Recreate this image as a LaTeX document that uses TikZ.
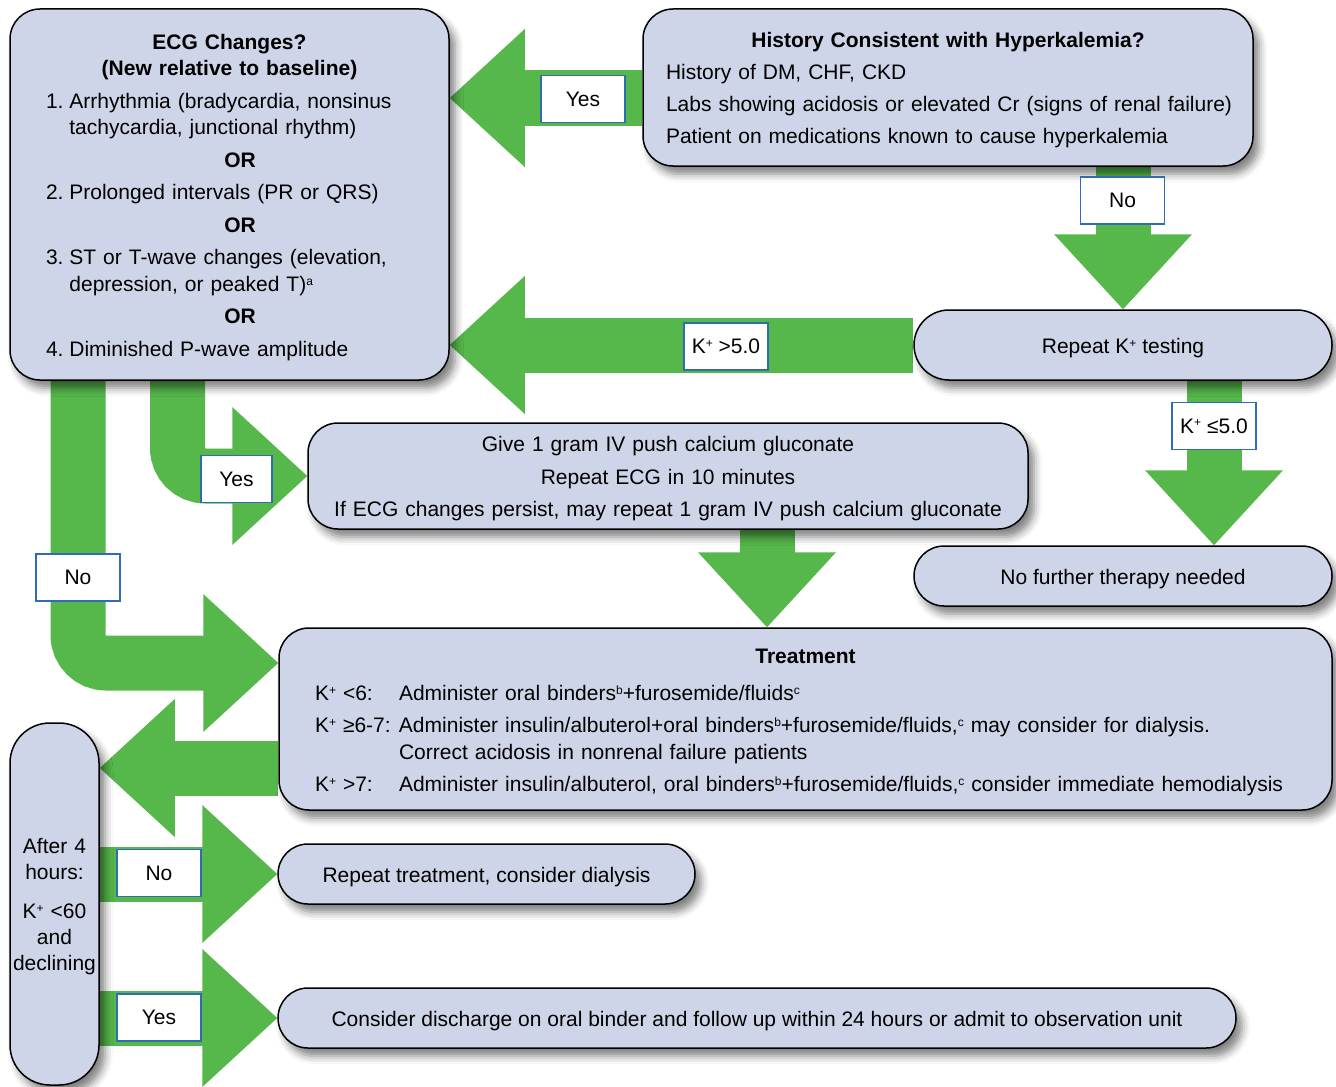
\documentclass[tikz,border=0pt]{standalone}
\usepackage{fontspec}
\setmainfont{Liberation Sans}
\usepackage{tikz}
\usetikzlibrary{backgrounds,shadows.blur}

\definecolor{arrowgreen}{HTML}{56B74B}
\definecolor{boxfill}{HTML}{CFD5E8}
\definecolor{tagblue}{HTML}{2F6CB4}

\newcommand{\sps}[1]{\raisebox{3.2pt}{\fontsize{6}{6}\selectfont#1}}
\newcommand{\Kp}{K\sps{+}}
\newcommand{\itemno}[1]{\makebox[11.7pt][l]{#1}}
\newcommand{\orline}{\makebox[\hsize]{\hspace*{10.5pt}\bfseries OR}}
\newcommand{\lline}[1]{\makebox[\hsize][l]{#1}}
\newcommand{\kline}[2]{\lline{\makebox[42pt][l]{#1}#2}}
\newcommand{\headleft}[1]{\fill[arrowgreen] (#1) -- ++(75,-69) -- ++(0,138) -- cycle;}
\newcommand{\headright}[1]{\fill[arrowgreen] (#1) -- ++(-75,-69) -- ++(0,138) -- cycle;}
\newcommand{\headdown}[1]{\fill[arrowgreen] (#1) -- ++(-69,-75) -- ++(138,0) -- cycle;}

\begin{document}
\begin{tikzpicture}[x=0.5pt, y=-0.5pt,
  box/.style={draw, line width=0.75pt, fill=boxfill, rounded corners=15pt,
    font=\fontsize{10.5}{13}\selectfont, execute at begin node={\rule{0pt}{10.6pt}},
    blur shadow={shadow xshift=3pt, shadow yshift=-4pt, shadow blur radius=4pt, shadow opacity=50}},
  tag/.style={draw=tagblue, line width=0.75pt, fill=white, minimum width=42pt,
    minimum height=23.5pt, inner sep=1pt, font=\fontsize{10.5}{13}\selectfont},
  shaft/.style={draw=arrowgreen, line width=27.5pt, shorten >=35pt}]
\useasboundingbox (0,0) rectangle (1336,1086);

\node[box, text width=183.5pt, inner xsep=18pt, minimum height=185.5pt, align=left] (ecg) at (229.5,194.5) {%
\makebox[\hsize]{\bfseries ECG Changes?}\\
\makebox[\hsize]{\bfseries (New relative to baseline)}\\[3.5pt]
\itemno{1.}Arrhythmia (bradycardia, nonsinus\\
\itemno{}tachycardia, junctional rhythm)\\[3.5pt]
\orline\\[3pt]
\itemno{2.}Prolonged intervals (PR or QRS)\\[3.5pt]
\orline\\[3pt]
\itemno{3.}ST or T-wave changes (elevation,\\[0.5pt]
\itemno{}depression, or peaked T)\sps{a}\\[3pt]
\orline\\[3.5pt]
\itemno{4.}Diminished P-wave amplitude};
\node[box, text width=282pt, inner xsep=11.5pt, minimum height=78.5pt, align=left] (hist) at (948,87.5) {%
\makebox[\hsize]{\bfseries History Consistent with Hyperkalemia?}\\[3pt]
\lline{History of DM, CHF, CKD}\\[3pt]
\lline{Labs showing acidosis or elevated Cr (signs of renal failure)}\\[3pt]
\lline{Patient on medications known to cause hyperkalemia}};
\node[box, rounded corners=17.5pt, minimum width=209pt, minimum height=35pt] (rep) at (1123,345) {Repeat \Kp{} testing};
\node[box, align=center, text width=340pt, inner xsep=10pt, minimum height=53pt] (calc) at (668,476) {%
Give 1 gram IV push calcium gluconate\\[3.25pt]
Repeat ECG in 10 minutes\\[3.25pt]
If ECG changes persist, may repeat 1 gram IV push calcium gluconate};
\node[box, minimum width=209pt, minimum height=30pt] (nofur) at (1123,576) {No further therapy needed};
\node[box, text width=490.5pt, inner xsep=18pt, minimum height=91pt, align=left] (treat) at (805.5,719) {%
\makebox[\hsize]{\bfseries Treatment}\\[5.5pt]
\kline{\Kp{} <6:}{Administer oral binders\sps{b}+furosemide/fluids\sps{c}}\\[3pt]
\kline{\Kp{} ≥6-7:}{Administer insulin/albuterol+oral binders\sps{b}+furosemide/fluids,\sps{c} may consider for dialysis.}\\[0.5pt]
\kline{}{Correct acidosis in nonrenal failure patients}\\[3pt]
\kline{\Kp{} >7:}{Administer insulin/albuterol, oral binders\sps{b}+furosemide/fluids,\sps{c} consider immediate hemodialysis}};
\node[box, rounded corners=20pt, align=center, text width=42.5pt, inner xsep=1pt, minimum height=181pt] (after) at (54.5,904) {%
After 4\\hours:\\[6.5pt]\Kp{} <60\\and\\declining};
\node[box, minimum width=208.5pt, minimum height=30pt] (reptr) at (486.5,874) {Repeat treatment, consider dialysis};
\node[box, minimum width=479pt, minimum height=30pt] (disch) at (757,1018) {Consider discharge on oral binder and follow up within 24 hours or admit to observation unit};

\node[tag] (yesA) at (583,99) {Yes};
\node[tag] (noA) at (1122.5,200.5) {No};
\node[tag] (kgt) at (726,346.5) {\Kp{} >5.0};
\node[tag] (kle) at (1214,426) {\Kp{} ≤5.0};
\node[tag, minimum width=35.5pt] (yesB) at (236.5,479) {Yes};
\node[tag] (noB) at (78,577.5) {No};
\node[tag] (noC) at (159,873) {No};
\node[tag] (yesC) at (159,1017.5) {Yes};

\begin{scope}[on background layer]
\draw[shaft] (hist.west |- 0,98) -- (ecg.east |- 0,98);
\headleft{ecg.east |- 0,98}
\draw[shaft] (rep.north |- hist.south) -- (rep.north);
\headdown{rep.north}
\draw[shaft] (rep.west) -- (ecg.east |- rep.west);
\headleft{ecg.east |- rep.west}
\draw[shaft] (rep.south -| 1214,0) -- (nofur.north -| 1214,0);
\headdown{nofur.north -| 1214,0}
\draw[shaft, rounded corners=14pt] (ecg.south -| 177.5,0) |- (calc.west);
\headright{calc.west}
\draw[shaft, rounded corners=14pt] (ecg.south -| 78,0) |- (treat.west |- 0,663);
\headright{treat.west |- 0,663}
\draw[shaft] (calc.south -| 767,0) -- (treat.north -| 767,0);
\headdown{treat.north -| 767,0}
\draw[shaft] (treat.west |- 0,768) -- (after.east |- 0,768);
\headleft{after.east |- 0,768}
\draw[shaft] (after.east |- reptr.west) -- (reptr.west);
\headright{reptr.west}
\draw[shaft] (after.east |- disch.west) -- (disch.west);
\headright{disch.west}
\end{scope}
\end{tikzpicture}
\end{document}
